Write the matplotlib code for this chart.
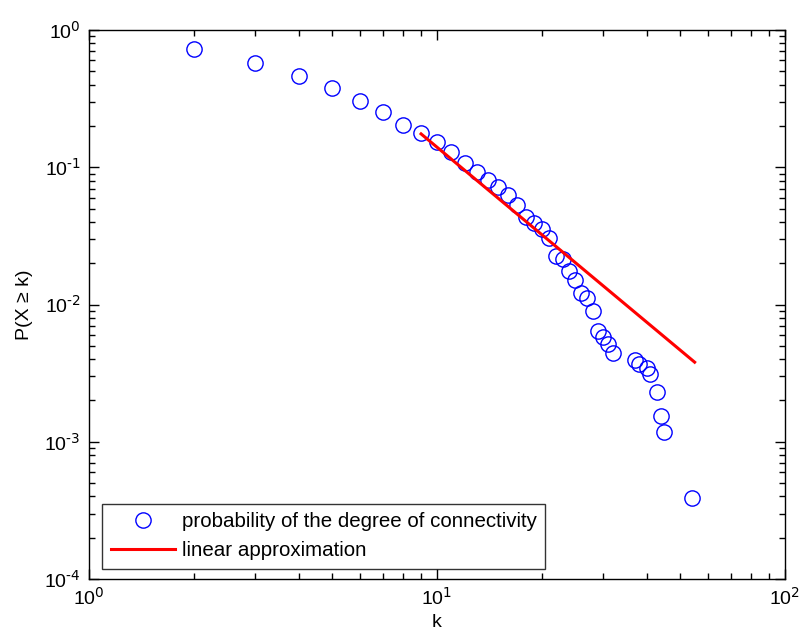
import matplotlib
matplotlib.use("Agg")
import matplotlib.pyplot as plt
from matplotlib.ticker import LogLocator, NullFormatter, FuncFormatter
import numpy as np

plt.rcParams['font.family'] = ['Liberation Sans', 'DejaVu Sans']
plt.rcParams['mathtext.default'] = 'regular'

# Cumulative degree distribution P(X >= k)
degree_k = [2, 3, 4, 5, 6, 7, 8, 9, 10, 11, 12, 13, 14, 15, 16, 17, 18, 19, 20,
            21, 22, 23, 24, 25, 26, 27, 28, 29, 30, 31, 32, 37, 38, 40, 41, 43,
            44, 45, 54]
prob_ge_k = [0.727, 0.574, 0.461, 0.377, 0.303, 0.252, 0.203, 0.177, 0.152,
             0.129, 0.107, 0.092, 0.0804, 0.0714, 0.0625, 0.0528, 0.0432,
             0.039, 0.0353, 0.0303, 0.0224, 0.0213, 0.0174, 0.015, 0.0122,
             0.0111, 0.00904, 0.00646, 0.00584, 0.00519, 0.00446, 0.00397,
             0.00371, 0.00347, 0.00313, 0.00232, 0.00155, 0.00118, 0.00039]

# Power-law fit (straight line in log-log space)
fit_k = [9, 55]
fit_p = [0.175, 0.0038]

fig = plt.figure(figsize=(8.03, 6.41), dpi=100)
ax = fig.add_axes([89 / 803, 1 - 579 / 641, (785 - 89) / 803, (579 - 30) / 641])

ax.plot(degree_k, prob_ge_k, linestyle='none', marker='o', markersize=11,
        markerfacecolor='none', markeredgecolor='#0000ff', markeredgewidth=1.0,
        label='probability of the degree of connectivity')
ax.plot(fit_k, fit_p, color='#ff0000', linewidth=2.2,
        label='linear approximation')

ax.set_xscale('log')
ax.set_yscale('log')
ax.set_xlim(1, 100)
ax.set_ylim(1e-4, 1)


def pow10_label(v, pos):
    e = int(round(np.log10(v)))
    return r'$10^{\text{%d}}$' % e


ax.xaxis.set_major_locator(LogLocator(base=10, numticks=10))
ax.yaxis.set_major_locator(LogLocator(base=10, numticks=10))
ax.xaxis.set_minor_locator(LogLocator(base=10, subs=range(2, 10), numticks=20))
ax.yaxis.set_minor_locator(LogLocator(base=10, subs=range(2, 10), numticks=20))
ax.xaxis.set_minor_formatter(NullFormatter())
ax.yaxis.set_minor_formatter(NullFormatter())
ax.xaxis.set_major_formatter(FuncFormatter(pow10_label))
ax.yaxis.set_major_formatter(FuncFormatter(pow10_label))

ax.tick_params(which='both', direction='in', top=True, right=True,
               labelsize=14, width=1.0, color='black')
ax.tick_params(which='major', length=7, pad=6)
ax.tick_params(which='minor', length=4)
for s in ax.spines.values():
    s.set_linewidth(1.0)

ax.set_xlabel('k', fontsize=14, labelpad=4)
ax.set_ylabel('P(X ≥ k)', fontsize=14, labelpad=8)

leg = ax.legend(loc='lower left', bbox_to_anchor=(0.0187, 0.018),
                borderaxespad=0, fontsize=14.8,
                frameon=True, fancybox=False, edgecolor='black',
                handlelength=3.1, borderpad=0.43, labelspacing=0.48,
                handletextpad=0.35)
leg.get_frame().set_linewidth(1.0)

fig.savefig('out.png', dpi=100)
